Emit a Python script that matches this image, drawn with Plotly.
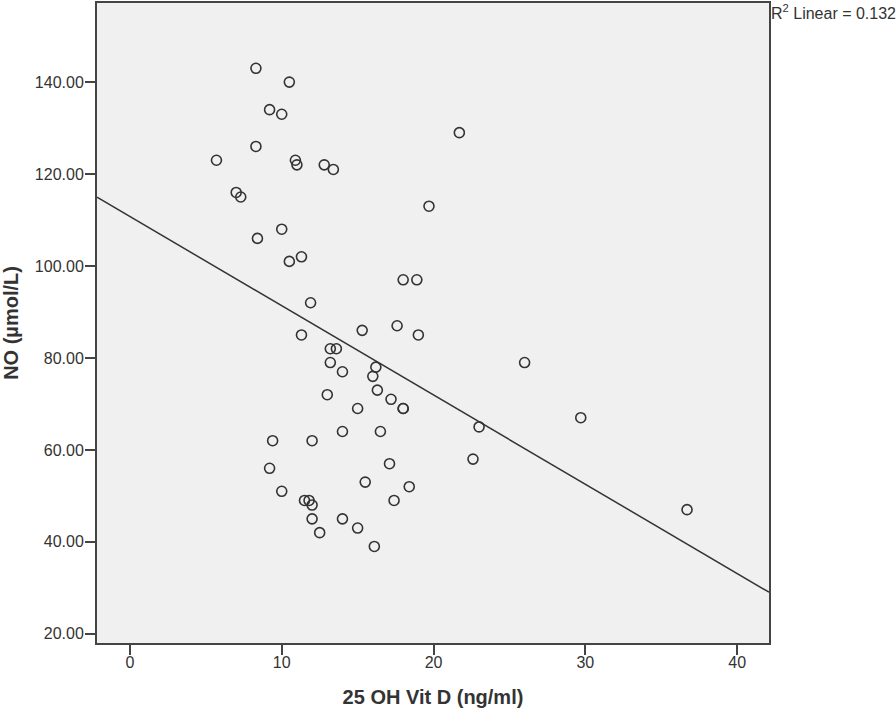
import numpy as np
import plotly.graph_objects as go

# 25 OH Vit D (ng/ml)
vit_d = [8.3, 10.5, 9.2, 10.0, 8.3, 5.7, 10.9, 11.0, 12.8, 13.4,
         21.7, 7.0, 7.3, 19.7, 10.0, 8.4, 11.3, 10.5, 18.0, 18.9,
         11.9, 11.3, 15.3, 17.6, 19.0, 13.2, 13.6, 13.2, 14.0, 16.2,
         16.0, 16.3, 17.2, 18.0, 18.0, 13.0, 15.0, 26.0, 29.7, 23.0,
         22.6, 9.4, 12.0, 14.0, 16.5, 17.1, 9.2, 10.0, 15.5, 18.4,
         11.5, 11.8, 12.0, 17.4, 12.0, 14.0, 15.0, 12.5, 16.1, 36.7]
# NO (µmol/L)
no_vals = [143, 140, 134, 133, 126, 123, 123, 122, 122, 121,
           129, 116, 115, 113, 108, 106, 102, 101, 97, 97,
           92, 85, 86, 87, 85, 82, 82, 79, 77, 78,
           76, 73, 71, 69, 69, 72, 69, 79, 67, 65,
           58, 62, 62, 64, 64, 57, 56, 51, 53, 52,
           49, 49, 48, 49, 45, 45, 43, 42, 39, 47]

x_ticks = [0, 10, 20, 30, 40]
y_ticks = [20, 40, 60, 80, 100, 120, 140]
x_range = [-2.17, 42.1]
y_range = [18.0, 157.2]
r2_label = "R<sup>2</sup> Linear = 0.132"

slope, intercept = np.polyfit(vit_d, no_vals, 1)
fit_x = np.array(x_range)
fit_y = intercept + slope * fit_x

ink = "#333333"
axis_col = "#444444"
font_family = "Liberation Sans, Arial, sans-serif"

fig = go.Figure()
fig.add_trace(go.Scatter(
    x=fit_x, y=fit_y, mode="lines",
    line=dict(color=ink, width=1.5), hoverinfo="skip", showlegend=False))
fig.add_trace(go.Scatter(
    x=vit_d, y=no_vals, mode="markers",
    marker=dict(symbol="circle-open", size=10, color=ink, line=dict(color=ink, width=1.6)),
    showlegend=False))

fig.update_layout(
    width=896, height=713,
    margin=dict(l=97, r=127, t=3, b=70),
    paper_bgcolor="white",
    plot_bgcolor="#F0F0F0",
    font=dict(family=font_family, color=ink, size=16),
    xaxis=dict(
        range=x_range, tickvals=x_ticks, ticks="outside", ticklen=10, tickwidth=1.5,
        tickcolor=axis_col, showline=True, linecolor=axis_col, linewidth=2, mirror=True,
        showgrid=False, zeroline=False, tickfont=dict(size=16), ticklabelstandoff=-6,
        automargin=False,
        title=dict(text="<b>25 OH Vit D (ng/ml)</b>", font=dict(size=20), standoff=20),
    ),
    yaxis=dict(
        range=y_range, tickvals=y_ticks, tickformat=".2f", ticks="outside", ticklen=10,
        tickwidth=1.5, tickcolor=axis_col, showline=True, linecolor=axis_col, linewidth=2,
        mirror=True, showgrid=False, zeroline=False, tickfont=dict(size=16),
        ticklabelstandoff=-2, automargin=False,
        title=dict(text="<b>NO (µmol/L)</b>", font=dict(size=20), standoff=20),
    ),
    annotations=[dict(
        text=r2_label, xref="paper", yref="paper", x=1, y=1, xanchor="left", yanchor="top",
        xshift=0, yshift=3, showarrow=False, font=dict(size=16, color=ink))],
)

fig.write_html("out.html", config={"displayModeBar": False},
               post_script="document.body.style.margin='0px';")
